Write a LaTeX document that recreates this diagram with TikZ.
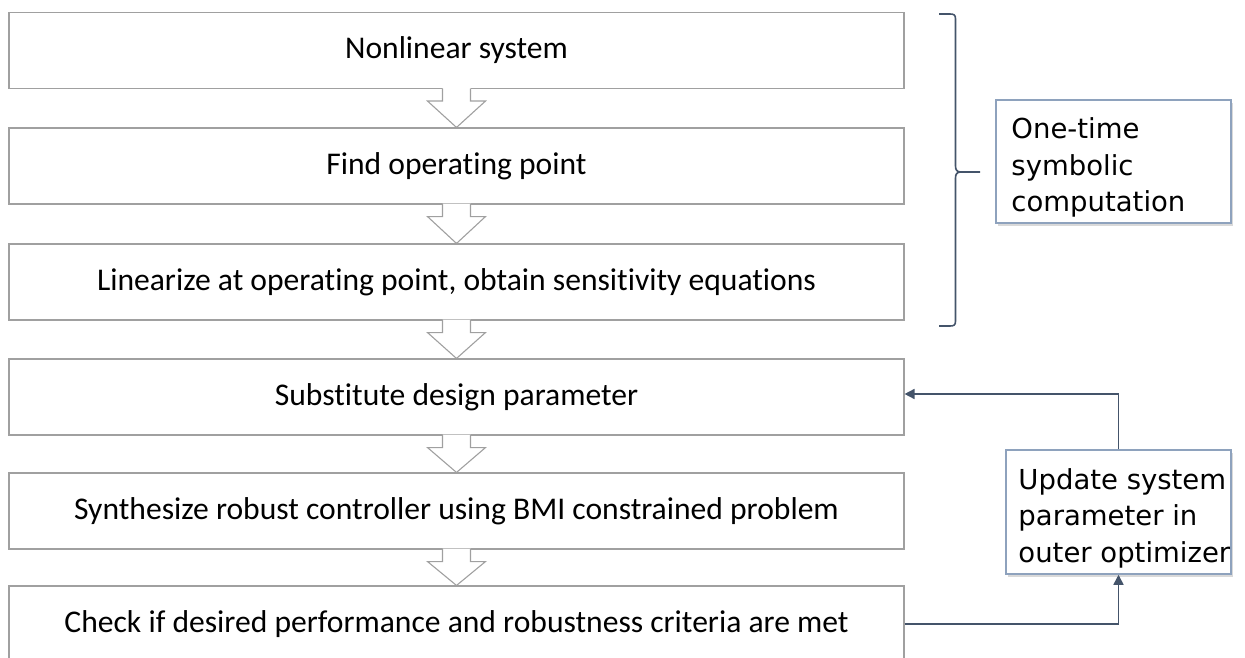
\documentclass[tikz,border=0pt]{standalone}
\usepackage{fontspec}
\setmainfont{Carlito}[Ligatures=CommonOff]
\newfontfamily\tah{DejaVu Sans}
\usetikzlibrary{arrows.meta,shadows,calc}
\definecolor{boxgray}{HTML}{A0A0A0}
\definecolor{slate}{HTML}{44546A}
\definecolor{rborder}{HTML}{8EA2BD}
\newcommand{\blkarrow}[2]{%
  \fill[white] ([shift={(-14pt,1pt)}]#1.south) -- ([shift={(-14pt,-12pt)}]#1.south) -- ([shift={(-29pt,-12pt)}]#1.south) -- (#2.north) -- ([shift={(29pt,-12pt)}]#1.south) -- ([shift={(14pt,-12pt)}]#1.south) -- ([shift={(14pt,1pt)}]#1.south) -- cycle;
  \draw[blockline] ([shift={(-14pt,0.5pt)}]#1.south) -- ([shift={(-14pt,-12pt)}]#1.south) -- ([shift={(-29pt,-12pt)}]#1.south) -- (#2.north) -- ([shift={(29pt,-12pt)}]#1.south) -- ([shift={(14pt,-12pt)}]#1.south) -- ([shift={(14pt,0.5pt)}]#1.south);
}
\begin{document}
\begin{tikzpicture}[x=1pt,y=-1pt,
  stepbox/.style={draw=boxgray,line width=1.1pt,fill=white,minimum width=895pt,minimum height=76pt,inner sep=0pt,font=\fontsize{31.6}{37}\selectfont},
  sidebox/.style={draw=rborder,line width=1.5pt,fill=white,inner sep=0pt,drop shadow={shadow xshift=2pt,shadow yshift=-3pt,opacity=0.3}},
  sidetext/.style={inner sep=0pt,align=left,font=\tah\fontsize{27.5}{36.5}\selectfont},
  blockline/.style={draw=boxgray,line width=1.1pt,line join=miter},
  fb/.style={draw=slate,line width=1.6pt,-{Triangle[length=10pt,width=10pt]}},
  brace/.style={draw=slate,line width=1.6pt}
]
\useasboundingbox (0,0) rectangle (1245,658);
\clip (0,0) rectangle (1245,658);

\node[stepbox] (b1) at (456.5,50.5) {Nonlinear system};
\node[stepbox] (b2) at (456.5,166) {Find operating point};
\node[stepbox] (b3) at (456.5,282) {Linearize at operating point, obtain sensitivity equations};
\node[stepbox] (b4) at (456.5,397) {Substitute design parameter};
\node[stepbox] (b5) at (456.5,511) {Synthesize robust controller using BMI constrained problem};
\node[stepbox] (b6) at (456.5,624) {Check if desired performance and robustness criteria are met};

\blkarrow{b1}{b2}
\blkarrow{b2}{b3}
\blkarrow{b3}{b4}
\blkarrow{b4}{b5}
\blkarrow{b5}{b6}

% brace
\coordinate (bt) at (980,172);
\draw[brace] (939,14) -- (950,14) .. controls (954,14) and (955.5,15) .. (955.5,19) -- (955.5,166) .. controls (955.5,170) and (957,172) .. (961,172) -- (bt);
\draw[brace] (961,172) .. controls (957,172) and (955.5,174) .. (955.5,178) -- (955.5,321) .. controls (955.5,325) and (954,326) .. (950,326) -- (939,326);

% side boxes
\node[sidebox,minimum width=235pt,minimum height=123pt] (one) at (1113.5,161.5) {};
\node[sidetext,anchor=north west] (onet) at ([shift={(16pt,-18.5pt)}]one.north west) {One-time\\symbolic\\computation};
\node[sidebox,minimum width=225pt,minimum height=124pt] (upd) at (1118.5,512) {};
\node[sidetext,anchor=north west] (updt) at ([shift={(13pt,-19pt)}]upd.north west) {Update system\\parameter in\\outer optimizer};

% feedback
\draw[fb] (b6.east) -| (upd.south);
\draw[fb] (upd.north) |- ([yshift=3pt]b4.east);
\end{tikzpicture}
\end{document}
